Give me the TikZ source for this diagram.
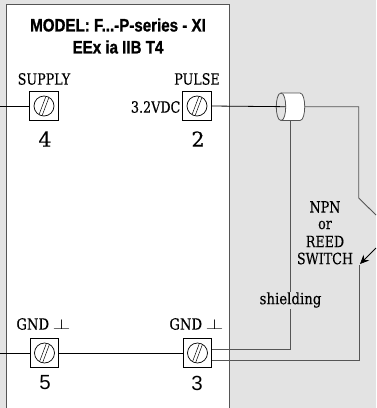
\documentclass[tikz,border=0pt]{standalone}
\usepackage{fontspec}
\setmainfont[FakeBold=0.3]{DejaVu Serif}
\newfontfamily\titlefont[BoldFeatures={FakeBold=1.2}]{Liberation Sans}
\usetikzlibrary{calc,arrows.meta}
\newcommand{\screw}[1]{%
  \node[screwhead] at (#1) {};
  \draw[screwline] ($(#1)+(-4.8,8.2)$) -- ($(#1)+(1.6,-8.8)$);
  \draw[screwline] ($(#1)+(-1.6,8.8)$) -- ($(#1)+(4.8,-8.2)$);
}
\newcommand{\gndlabel}{\scalebox{0.85}[1]{GND}\hspace{3.5pt}\scalebox{1.6}[1]{$\perp$}}
\definecolor{bg}{HTML}{E3E3E3}
\definecolor{wire}{HTML}{555555}
\begin{document}
\begin{tikzpicture}[x=1pt,y=-1pt,
  termbox/.style={draw=black,line width=0.7pt,fill=white,minimum size=28.5pt,inner sep=0pt},
  screwhead/.style={draw=black,line width=0.7pt,circle,minimum size=20pt,inner sep=0pt,fill=white},
  screwline/.style={draw=black,line width=0.5pt},
  lab/.style={inner sep=0pt,font=\fontsize{15.5}{17}\selectfont},
  num/.style={inner sep=0pt,font=\fontsize{20.5}{22}\selectfont},
  ttl/.style={inner sep=0pt,font=\titlefont\bfseries\fontsize{18}{20}\selectfont},
  blk/.style={draw=black,line width=0.8pt},
  gry/.style={draw=wire,line width=0.9pt}]
\useasboundingbox (0,0) rectangle (376,408);
\fill[bg] (0,0) rectangle (376,408);
\fill[white] (6.5,4) rectangle (229,408);
\draw[draw=wire,line width=0.9pt] (6.5,408) -- (6.5,4) -- (229,4) -- (229,408);

\node[ttl] (t1) at (118,25) {\scalebox{0.84}[1]{MODEL: F...-P-series - XI}};
\node[ttl] (t2) at (118,47) {\scalebox{0.84}[1]{EEx ia IIB T4}};

\node[termbox] (b4) at (44,106) {};
\node[termbox] (b2) at (197,106) {};
\node[termbox] (b5) at (44.5,353) {};
\node[termbox] (b3) at (197.5,353) {};

\coordinate (L4) at (0,106);
\coordinate (L5) at (0,353);
\draw[blk] (L4) -- (b4.west);
\draw[blk] (L5) -- (b5.west);
\draw[blk] (b5.east) -- (b3.west);

\foreach \n in {b4,b2,b5,b3}{\screw{\n}}

\node[lab] (s4) at (44,79) {\scalebox{0.82}[1]{SUPPLY}};
\node[lab] (s2) at (197,79) {\scalebox{0.82}[1]{PULSE}};
\node[lab,anchor=east] (v2) at (180.5,107) {\scalebox{0.82}[1]{3.2VDC}};
\node[lab] (s5) at (43.5,324) {\gndlabel};
\node[lab] (s3) at (196.5,324) {\gndlabel};
\node[num] (n4) at (45,139) {4};
\node[num] (n2) at (198,139) {2};
\node[num] (n5) at (45,383) {\titlefont 5};
\node[num] (n3) at (197,383) {\titlefont 3};

% cable
\coordinate (cre) at (304.7,106.7);
\filldraw[fill=white,draw=wire,line width=0.8pt] (281,93) -- (300,93)
  .. controls (306.3,93) and (306.3,120.5) .. (300,120.5) -- (281,120.5);
\filldraw[fill=bg,draw=wire,line width=0.8pt] (281,93)
  .. controls (274.7,93) and (274.7,120.5) .. (281,120.5)
  .. controls (287.3,120.5) and (287.3,93) .. (281,93);
\draw[blk] (b2.east) -- (285.7,106.7);
\coordinate (k1) at (358.7,106.7);
\coordinate (k2) at (358.7,198);
\coordinate (k3) at (376,215);
\draw[gry] (cre) -- (k1) -- (k2) -- (k3);

\coordinate (sh0) at (290.7,120.5);
\coordinate (sh1) at (290.7,292);
\coordinate (sh2) at (290.7,309);
\coordinate (sh3) at (290.7,349);
\coordinate (sh4) at (212,349);
\draw[gry] (sh0) -- (sh1);
\draw[gry] (sh2) -- (sh3) -- (sh4);
\node[lab] (shl) at (290.5,300) {\scalebox{0.86}[1]{shielding}};

\coordinate (r1) at (359.5,265);
\coordinate (r2) at (359.5,360);
\coordinate (r3) at (212,360);
\draw[gry] (r1) -- (r2) -- (r3);
\coordinate (a0) at (376,248);
\coordinate (a1) at (360,264);
\draw[blk,-{Stealth[length=9pt,width=8pt]}] (a0) -- (a1);

\node[lab] (sw1) at (325,207) {\scalebox{0.82}[1]{NPN}};
\node[lab] (sw2) at (325,225) {\scalebox{0.82}[1]{or}};
\node[lab] (sw3) at (325,241.5) {\scalebox{0.82}[1]{REED}};
\node[lab] (sw4) at (325,258.5) {\scalebox{0.82}[1]{SWITCH}};
\end{tikzpicture}
\end{document}
